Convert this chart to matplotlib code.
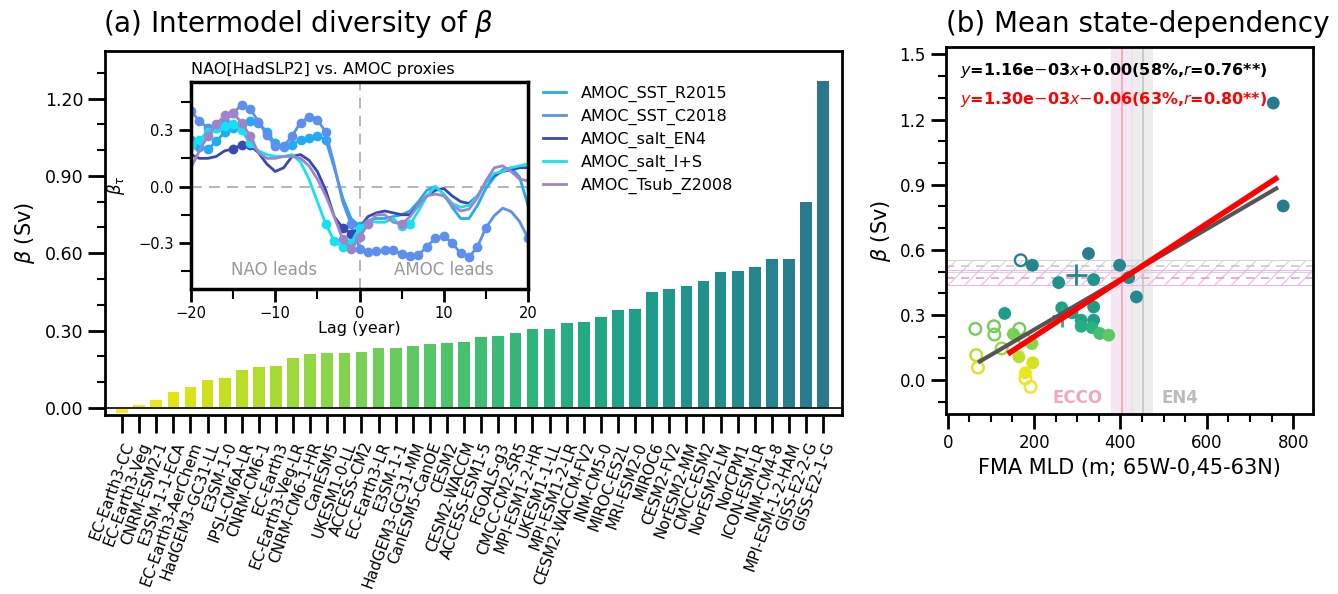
import numpy as np
import matplotlib.pyplot as plt
from matplotlib.lines import Line2D
from matplotlib.ticker import MultipleLocator, FuncFormatter

plt.rcParams['font.family'] = 'DejaVu Sans'
plt.rcParams['mathtext.fontset'] = 'dejavusans'
plt.rcParams['hatch.linewidth'] = 0.8

# ---- panel (a): beta per model ----
models = ['EC-Earth3-CC', 'EC-Earth3-Veg', 'CNRM-ESM2-1', 'E3SM-1-1-ECA', 'EC-Earth3-AerChem',
          'HadGEM3-GC31-LL', 'E3SM-1-0', 'IPSL-CM6A-LR', 'CNRM-CM6-1', 'EC-Earth3',
          'EC-Earth3-Veg-LR', 'CNRM-CM6-1-HR', 'CanESM5', 'UKESM1-0-LL', 'ACCESS-CM2',
          'EC-Earth3-LR', 'E3SM-1-1', 'HadGEM3-GC31-MM', 'CanESM5-CanOE', 'CESM2',
          'CESM2-WACCM', 'ACCESS-ESM1-5', 'FGOALS-g3', 'CMCC-CM2-SR5', 'MPI-ESM1-2-HR',
          'UKESM1-1-LL', 'MPI-ESM1-2-LR', 'CESM2-WACCM-FV2', 'INM-CM5-0', 'MIROC-ES2L',
          'MRI-ESM2-0', 'MIROC6', 'CESM2-FV2', 'NorESM2-MM', 'CMCC-ESM2', 'NorESM2-LM',
          'NorCPM1', 'ICON-ESM-LR', 'INM-CM4-8', 'MPI-ESM-1-2-HAM', 'GISS-E2-2-G', 'GISS-E2-1-G']
beta = [-0.022, 0.010, 0.032, 0.062, 0.082, 0.107, 0.115, 0.148, 0.160, 0.162,
        0.193, 0.210, 0.212, 0.214, 0.216, 0.233, 0.234, 0.238, 0.246, 0.251,
        0.254, 0.274, 0.277, 0.292, 0.306, 0.306, 0.330, 0.332, 0.351, 0.380,
        0.382, 0.451, 0.460, 0.472, 0.491, 0.529, 0.530, 0.548, 0.579, 0.579,
        0.799, 1.270]

# ---- inset: lagged regression against AMOC proxies ----
lags = np.arange(-20, 21)
r2015 = [0.25, 0.21, 0.20, 0.24, 0.29, 0.31, 0.33, 0.35, 0.34, 0.29, 0.23, 0.21, 0.22, 0.25, 0.26, 0.27, 0.25,
         0.10, -0.06, -0.17, -0.21,
         -0.18, -0.17, -0.17, -0.16, -0.15, -0.13, -0.08, -0.02, 0.00, -0.04,
         -0.11, -0.17, -0.17, -0.10, -0.01, 0.05, 0.09, 0.10, 0.05, -0.10]
c2018 = [0.40, 0.35, 0.31, 0.31, 0.345, 0.39, 0.435, 0.415, 0.345, 0.275, 0.216, 0.213, 0.27, 0.34, 0.37, 0.355, 0.29,
         0.115, -0.08, -0.20, -0.33,
         -0.35, -0.345, -0.337, -0.337, -0.36, -0.372, -0.363, -0.32, -0.275, -0.262,
         -0.30, -0.355, -0.376, -0.32, -0.22, -0.155, -0.115, -0.133, -0.186, -0.275]
en4 = [0.17, 0.15, 0.15, 0.16, 0.19, 0.20, 0.22, 0.22, 0.18, 0.12, 0.08, 0.10, 0.16, 0.17, 0.14, 0.08, -0.02,
       -0.16, -0.22, -0.25, -0.22,
       -0.16, -0.14, -0.13, -0.14, -0.15, -0.15, -0.10, -0.05, -0.02, -0.01,
       -0.05, -0.08, -0.09, -0.05, 0.02, 0.06, 0.08, 0.09, 0.10, 0.10]
ins_ = [0.22, 0.25, 0.29, 0.31, 0.32, 0.33, 0.30, 0.23, 0.19, 0.17, 0.16, 0.16, 0.17, 0.13, 0.04, -0.08, -0.20,
        -0.29, -0.32, -0.30, -0.22,
        -0.18, -0.19, -0.19, -0.17, -0.21, -0.20, -0.13, -0.05, 0.00, -0.04,
        -0.09, -0.11, -0.10, -0.05, 0.02, 0.07, 0.08, 0.10, 0.11, 0.12]
tsub = [0.10, 0.19, 0.27, 0.33, 0.38, 0.39, 0.34, 0.27, 0.18, 0.15, 0.15, 0.16, 0.16, 0.15, 0.11, 0.04, -0.05,
        -0.16, -0.28, -0.33, -0.27,
        -0.20, -0.15, -0.15, -0.19, -0.20, -0.16, -0.10, -0.05, -0.04, -0.05,
        -0.10, -0.13, -0.12, -0.06, 0.03, 0.10, 0.11, 0.08, 0.04, 0.03]
proxy_names = ['AMOC_SST_R2015', 'AMOC_SST_C2018', 'AMOC_salt_EN4', 'AMOC_salt_I+S', 'AMOC_Tsub_Z2008']
proxy_colors = ['#22aaf2', '#5b8ff0', '#3a47b5', '#12e2f2', '#9d85cc']

# ---- panel (b): MLD vs beta ----
mld_filled = [754, 777, 326, 196, 398, 419, 437, 257, 338, 338, 264, 288, 309, 338, 309, 334,
              352, 373, 132, 152, 165, 197, 180, 195]
beta_filled = [1.276, 0.802, 0.583, 0.529, 0.529, 0.472, 0.383, 0.449, 0.463, 0.337, 0.333, 0.310,
               0.276, 0.276, 0.248, 0.242, 0.215, 0.207, 0.307, 0.212, 0.107, 0.080, 0.034, 0.168]
mld_open = [169, 64, 107, 108, 166, 125, 178, 66, 70, 180, 192]
beta_open = [0.552, 0.236, 0.248, 0.210, 0.236, 0.146, 0.187, 0.115, 0.058, 0.008, -0.031]
mld_plus = [298, 265]
beta_plus = [0.486, 0.294]
fit_all = (1.16e-3, 0.00, 70, 765)      # slope, intercept, x range
fit_filled = (1.30e-3, -0.06, 139, 765)
ecco_mld, ecco_rng = 404, (379, 429)
en4_mld, en4_rng = 452, (425, 476)
obs_gray, obs_gray_rng = 0.526, (0.498, 0.555)
obs_pink, obs_pink_rng = 0.471, (0.437, 0.506)

# viridis shade of each scatter mark
shade_filled = [0.40, 0.41, 0.42, 0.45, 0.47, 0.48, 0.47, 0.50, 0.52, 0.55, 0.57, 0.57,
                0.58, 0.56, 0.62, 0.64, 0.70, 0.75, 0.55, 0.80, 0.90, 0.93, 0.97, 0.82]
shade_open = [0.45, 0.78, 0.78, 0.80, 0.78, 0.85, 0.82, 0.90, 0.95, 0.98, 0.98]
shade_plus = [0.47, 0.62]

W, H = 1338, 594
fig = plt.figure(figsize=(W / 100, H / 100), dpi=100)


def fmt(nd):
    return FuncFormatter(lambda v, p: f'{v:.{nd}f}'.replace('-', '\u2212'))


bar_colors = plt.cm.viridis(np.linspace(1.0, 0.4, len(models)))

# panel (a)
ax = fig.add_axes([105 / W, 1 - 415 / H, 737 / W, 364 / H])
x = np.arange(len(models))
ax.bar(x, beta, width=0.68, color=bar_colors, zorder=2)
ax.axhline(0, color='k', lw=1.2, zorder=3)
ax.set_xlim(-1.0, 42.1)
ax.set_ylim(-0.028, 1.385)
ax.set_xticks(x)
ax.set_xticklabels(models, rotation=70, ha='right', va='top', rotation_mode='anchor', fontsize=11)
ax.yaxis.set_major_locator(MultipleLocator(0.3))
ax.yaxis.set_minor_locator(MultipleLocator(0.1))
ax.yaxis.set_major_formatter(fmt(2))
ax.tick_params(axis='y', which='major', length=12, width=2, labelsize=12.5)
ax.tick_params(axis='y', which='minor', length=6, width=1.5)
ax.tick_params(axis='x', length=13, width=2, pad=5)
for s in ax.spines.values():
    s.set_linewidth(2)
ax.set_ylabel(r'$\beta$ (Sv)', fontsize=15)
ax.yaxis.set_label_coords(-0.092, 0.5)
fig.text(103 / W, 1 - 24 / H, r'(a) Intermodel diversity of $\beta$', fontsize=20, va='center')

# inset
ins = fig.add_axes([191 / W, 1 - 289 / H, 337 / W, 207 / H])
ins.axhline(0, color='#b0b0b0', ls=(0, (6, 4)), lw=1.3)
ins.axvline(0, color='#b0b0b0', ls=(0, (6, 4)), lw=1.3)
handles = []
for vals, name, c in zip([r2015, c2018, en4, ins_, tsub], proxy_names, proxy_colors):
    v = np.array(vals)
    ins.plot(lags, v, color=c, lw=2)
    sig = np.abs(v) >= 0.2
    ins.plot(lags[sig], v[sig], 'o', color=c, ms=7, mec='none')
    handles.append(Line2D([], [], color=c, lw=2, label=name))
ins.set_xlim(-20, 20)
ins.set_ylim(-0.545, 0.556)
ins.xaxis.set_major_locator(MultipleLocator(10))
ins.xaxis.set_minor_locator(MultipleLocator(5))
ins.yaxis.set_major_locator(MultipleLocator(0.3))
ins.yaxis.set_minor_locator(MultipleLocator(0.15))
ins.yaxis.set_major_formatter(fmt(1))
ins.tick_params(which='major', length=9, width=2, labelsize=10.5)
ins.tick_params(which='minor', length=7, width=1.5)
for s in ins.spines.values():
    s.set_linewidth(2.5)
ins.set_xlabel('Lag (year)', fontsize=11.5, labelpad=0)
ins.set_ylabel(r'$\beta_\tau$', fontsize=12)
ins.yaxis.set_label_coords(-0.19, 0.5)
ins.set_title('NAO[HadSLP2] vs. AMOC proxies', loc='left', fontsize=11.5, pad=6)
ins.text(-10.1, -0.443, 'NAO leads', color='#999999', fontsize=12, ha='center', va='center')
ins.text(10.0, -0.443, 'AMOC leads', color='#999999', fontsize=12, ha='center', va='center')
fig.legend(handles=handles, loc='upper left', bbox_to_anchor=(543 / W, 1 - 86 / H),
           frameon=False, fontsize=11.5, handlelength=1.45, handletextpad=0.9,
           labelspacing=0.42, borderpad=0, borderaxespad=0)

# panel (b)
bx = fig.add_axes([946 / W, 1 - 414 / H, 367 / W, 367 / H])
bx.axvspan(*ecco_rng, color='#f3dcf0', alpha=0.7, lw=0, zorder=0)
bx.axvspan(*en4_rng, color='#e2e2e2', alpha=0.6, lw=0, zorder=0)
bx.axvline(ecco_mld, color='#f4a0b0', lw=1.2, zorder=1)
bx.axvline(en4_mld, color='#c4c4c4', lw=1.2, zorder=1)
bx.axhspan(*obs_gray_rng, facecolor='none', edgecolor='#d6d6d6', hatch='//', lw=0.8, zorder=1)
bx.axhline(obs_gray, color='#c8c8c8', ls=(0, (5, 4)), lw=1.2, zorder=1)
bx.axhspan(*obs_pink_rng, facecolor='none', edgecolor='#eab8ea', hatch='//', lw=0.8, zorder=1)
bx.axhline(obs_pink, color='#ee9ec4', ls=(0, (5, 4)), lw=1.2, zorder=1)

for (k, b0, x0, x1), c, lw in [(fit_all, '#555555', 3), (fit_filled, '#ff0000', 4)]:
    xx = np.array([x0, x1])
    bx.plot(xx, k * xx + b0, color=c, lw=lw, solid_capstyle='butt', zorder=4)

bx.scatter(mld_filled, beta_filled, s=85, c=plt.cm.viridis(shade_filled), edgecolors='none', zorder=3)
bx.scatter(mld_open, beta_open, s=70, facecolors='none', edgecolors=plt.cm.viridis(shade_open),
           linewidths=1.7, zorder=3)
bx.scatter(mld_plus, beta_plus, s=220, marker='+', c=plt.cm.viridis(shade_plus), linewidths=2, zorder=3)

bx.set_xlim(-4, 846)
bx.set_ylim(-0.156, 1.534)
bx.xaxis.set_major_locator(MultipleLocator(200))
bx.xaxis.set_minor_locator(MultipleLocator(50))
bx.yaxis.set_major_locator(MultipleLocator(0.3))
bx.yaxis.set_minor_locator(MultipleLocator(0.1))
bx.yaxis.set_major_formatter(fmt(1))
bx.tick_params(which='major', length=11, width=2, labelsize=12)
bx.tick_params(which='minor', length=6, width=1.5)
for s in bx.spines.values():
    s.set_linewidth(2)
bx.set_xlabel('FMA MLD (m; 65W-0,45-63N)', fontsize=15, labelpad=4)
bx.set_ylabel(r'$\beta$ (Sv)', fontsize=15)
bx.yaxis.set_label_coords(-0.145, 0.5)
bx.text(0.038, 0.937, r'$y$=1.16e$-$03$x$+0.00(58%,$r$=0.76**)', transform=bx.transAxes,
        fontsize=11.5, fontweight='bold', va='center', color='k')
bx.text(0.038, 0.858, r'$y$=1.30e$-$03$x$$-$0.06(63%,$r$=0.80**)', transform=bx.transAxes,
        fontsize=11.5, fontweight='bold', va='center', color='#ff0000')
bx.text(301, -0.083, 'ECCO', color='#f4a6bd', fontsize=12, fontweight='bold', ha='center', va='center')
bx.text(537, -0.083, 'EN4', color='#bbbbbb', fontsize=12, fontweight='bold', ha='center', va='center')
fig.text(1330 / W, 1 - 24 / H, '(b) Mean state-dependency', fontsize=20, ha='right', va='center')

fig.savefig('out.png', dpi=100)
